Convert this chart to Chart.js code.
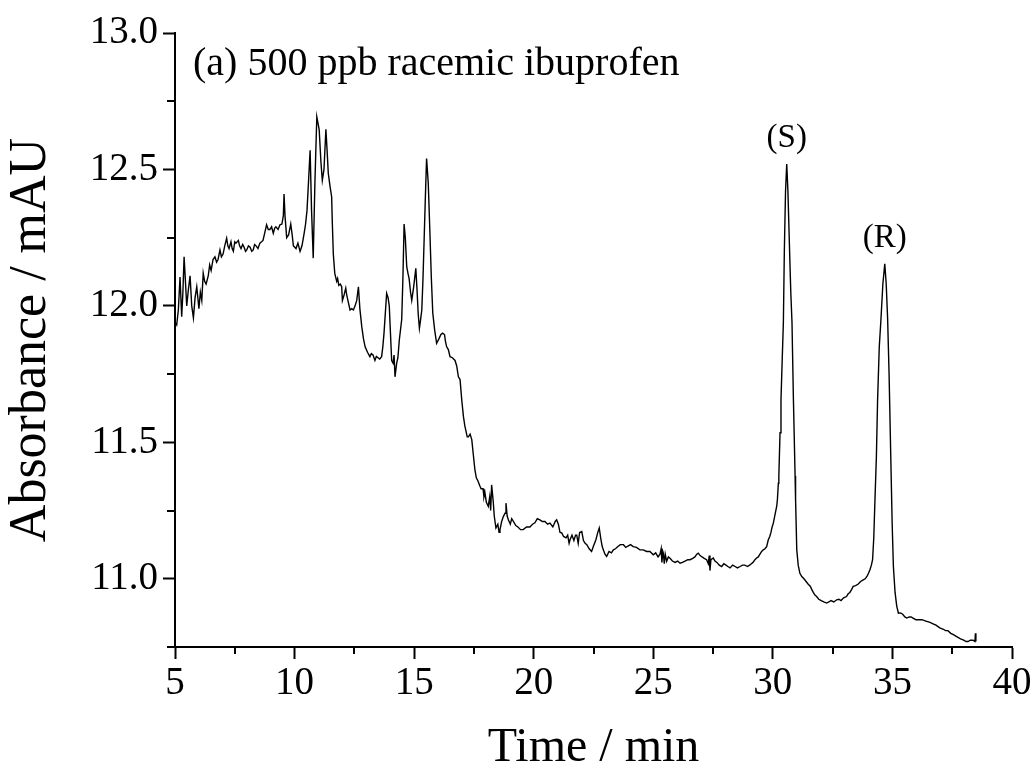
<!DOCTYPE html>
<html>
<head>
<meta charset="utf-8">
<script src="https://cdn.jsdelivr.net/npm/chart.js@4.4.0/dist/chart.umd.min.js"></script>
<style>
  html, body { margin: 0; padding: 0; background: #fff; }
</style>
</head>
<body>
<canvas id="chromChart" width="1034" height="769"></canvas>
<script>
// retention time (min) and detector signal (mAU)
const times = [
  5.00, 5.07, 5.14, 5.21, 5.28, 5.33, 5.38, 5.43, 5.49, 5.56, 5.63, 5.70, 5.77, 5.84, 5.91, 6.00,
  6.06, 6.12, 6.18, 6.24, 6.30, 6.39, 6.45, 6.51, 6.59, 6.67, 6.74, 6.80, 6.88, 6.94, 7.01, 7.08,
  7.16, 7.21, 7.26, 7.34, 7.39, 7.44, 7.50, 7.55, 7.65, 7.70, 7.76, 7.83, 7.89, 7.95, 8.00, 8.07,
  8.14, 8.21, 8.27, 8.33, 8.39, 8.47, 8.55, 8.62, 8.68, 8.76, 8.83, 8.90, 8.97, 9.04, 9.11, 9.17,
  9.22, 9.31, 9.39, 9.47, 9.53, 9.56, 9.60, 9.67, 9.75, 9.84, 9.90, 9.95, 10.01, 10.06, 10.14, 10.23,
  10.31, 10.40, 10.46, 10.52, 10.58, 10.65, 10.71, 10.78, 10.85, 10.93, 10.98, 11.03, 11.10, 11.16, 11.23, 11.31,
  11.36, 11.41, 11.48, 11.55, 11.58, 11.62, 11.68, 11.76, 11.80, 11.85, 11.91, 11.97, 12.00, 12.07, 12.14, 12.18,
  12.23, 12.32, 12.39, 12.46, 12.53, 12.60, 12.67, 12.73, 12.81, 12.88, 12.95, 13.05, 13.15, 13.21, 13.28, 13.36,
  13.42, 13.49, 13.56, 13.64, 13.69, 13.74, 13.80, 13.85, 13.91, 13.96, 14.01, 14.06, 14.12, 14.16, 14.20, 14.27,
  14.32, 14.38, 14.48, 14.53, 14.58, 14.63, 14.69, 14.74, 14.79, 14.85, 14.90, 14.98, 15.07, 15.12, 15.17, 15.22,
  15.27, 15.32, 15.37, 15.42, 15.47, 15.52, 15.59, 15.66, 15.72, 15.78, 15.86, 15.94, 16.04, 16.12, 16.19, 16.27,
  16.31, 16.36, 16.43, 16.50, 16.60, 16.71, 16.78, 16.85, 16.92, 16.99, 17.06, 17.12, 17.17, 17.22, 17.27, 17.34,
  17.41, 17.48, 17.54, 17.60, 17.66, 17.75, 17.80, 17.88, 17.92, 17.96, 18.02, 18.10, 18.16, 18.20, 18.24, 18.31,
  18.35, 18.42, 18.50, 18.55, 18.59, 18.66, 18.73, 18.80, 18.84, 18.89, 18.94, 19.02, 19.08, 19.15, 19.25, 19.34,
  19.45, 19.56, 19.70, 19.84, 19.95, 20.05, 20.15, 20.26, 20.36, 20.47, 20.58, 20.68, 20.80, 20.90, 20.96, 21.03,
  21.10, 21.17, 21.25, 21.35, 21.42, 21.48, 21.52, 21.60, 21.68, 21.75, 21.80, 21.86, 21.92, 22.01, 22.08, 22.15,
  22.22, 22.32, 22.42, 22.50, 22.60, 22.68, 22.74, 22.80, 22.86, 22.91, 22.98, 23.05, 23.15, 23.25, 23.33, 23.42,
  23.52, 23.62, 23.75, 23.85, 23.94, 24.05, 24.16, 24.30, 24.44, 24.58, 24.72, 24.86, 25.00, 25.10, 25.20, 25.28,
  25.33, 25.36, 25.40, 25.42, 25.46, 25.50, 25.56, 25.63, 25.70, 25.80, 25.91, 26.02, 26.12, 26.22, 26.33, 26.44,
  26.54, 26.65, 26.74, 26.82, 26.88, 26.96, 27.04, 27.13, 27.23, 27.30, 27.34, 27.37, 27.41, 27.51, 27.58, 27.66,
  27.76, 27.86, 27.95, 28.04, 28.12, 28.21, 28.32, 28.42, 28.52, 28.63, 28.73, 28.83, 28.94, 29.04, 29.10, 29.17,
  29.25, 29.32, 29.39, 29.46, 29.53, 29.60, 29.67, 29.74, 29.81, 29.87, 29.92, 29.97, 30.02, 30.09, 30.16, 30.19,
  30.23, 30.25, 30.30, 30.34, 30.39, 30.44, 30.48, 30.53, 30.58, 30.63, 30.70, 30.75, 30.80, 30.86, 30.93, 30.95,
  31.00, 31.06, 31.13, 31.21, 31.30, 31.39, 31.48, 31.57, 31.63, 31.69, 31.76, 31.83, 31.92, 32.02, 32.13, 32.25,
  32.34, 32.43, 32.55, 32.67, 32.76, 32.85, 32.96, 33.08, 33.15, 33.22, 33.29, 33.36, 33.46, 33.56, 33.67, 33.78,
  33.86, 33.94, 34.00, 34.06, 34.12, 34.17, 34.22, 34.27, 34.33, 34.38, 34.45, 34.52, 34.60, 34.68, 34.74, 34.80,
  34.83, 34.86, 34.93, 34.99, 35.04, 35.11, 35.18, 35.25, 35.34, 35.43, 35.52, 35.60, 35.70, 35.78, 35.88, 35.98,
  36.10, 36.23, 36.40, 36.57, 36.70, 36.82, 36.98, 37.13, 37.22, 37.32, 37.44, 37.55, 37.65, 37.74, 37.85, 37.98,
  38.08, 38.16, 38.26, 38.37, 38.45, 38.47, 38.49
];
const absorbance = [
  11.94, 11.93, 11.985, 12.106, 11.96, 12.05, 12.18, 12.10, 12.00, 12.06, 12.11, 12.00, 11.956, 12.03, 12.07, 11.99,
  12.05, 12.02, 12.12, 12.09, 12.08, 12.11, 12.15, 12.13, 12.17, 12.18, 12.16, 12.17, 12.205, 12.18, 12.19, 12.22,
  12.248, 12.22, 12.21, 12.235, 12.21, 12.20, 12.235, 12.23, 12.24, 12.22, 12.21, 12.225, 12.215, 12.20, 12.205, 12.22,
  12.215, 12.20, 12.205, 12.225, 12.22, 12.21, 12.23, 12.235, 12.24, 12.27, 12.297, 12.28, 12.28, 12.29, 12.266, 12.285,
  12.29, 12.28, 12.297, 12.30, 12.33, 12.41, 12.33, 12.25, 12.26, 12.30, 12.26, 12.22, 12.215, 12.21, 12.23, 12.20,
  12.22, 12.266, 12.30, 12.35, 12.45, 12.57, 12.35, 12.175, 12.45, 12.693, 12.67, 12.645, 12.53, 12.46, 12.50, 12.647,
  12.57, 12.486, 12.44, 12.40, 12.30, 12.19, 12.12, 12.09, 12.10, 12.075, 12.08, 12.07, 12.02, 12.04, 12.065, 12.04,
  12.02, 11.985, 11.99, 11.985, 12.00, 12.02, 12.07, 11.99, 11.924, 11.88, 11.85, 11.83, 11.814, 11.825, 11.82, 11.80,
  11.815, 11.81, 11.805, 11.814, 11.85, 11.90, 11.98, 12.046, 12.03, 12.00, 11.90, 11.80, 11.79, 11.82, 11.74, 11.79,
  11.81, 11.875, 11.95, 12.10, 12.30, 12.25, 12.144, 12.12, 12.10, 12.05, 12.02, 12.07, 12.138, 12.06, 11.97, 11.918,
  11.95, 11.985, 12.10, 12.25, 12.40, 12.54, 12.45, 12.266, 12.10, 11.973, 11.91, 11.863, 11.88, 11.895, 11.90, 11.895,
  11.87, 11.85, 11.84, 11.814, 11.81, 11.80, 11.78, 11.74, 11.73, 11.656, 11.595, 11.56, 11.54, 11.52, 11.52, 11.53,
  11.51, 11.45, 11.40, 11.37, 11.36, 11.34, 11.33, 11.33, 11.30, 11.315, 11.28, 11.265, 11.30, 11.25, 11.344, 11.28,
  11.23, 11.186, 11.20, 11.17, 11.18, 11.21, 11.228, 11.24, 11.277, 11.23, 11.216, 11.20, 11.22, 11.21, 11.195, 11.19,
  11.18, 11.18, 11.19, 11.19, 11.20, 11.205, 11.22, 11.216, 11.21, 11.21, 11.20, 11.204, 11.19, 11.21, 11.216, 11.20,
  11.17, 11.168, 11.155, 11.15, 11.16, 11.13, 11.143, 11.16, 11.14, 11.16, 11.16, 11.13, 11.17, 11.173, 11.14, 11.13,
  11.125, 11.11, 11.10, 11.12, 11.143, 11.17, 11.186, 11.15, 11.12, 11.106, 11.09, 11.082, 11.10, 11.095, 11.106, 11.11,
  11.118, 11.125, 11.125, 11.115, 11.12, 11.125, 11.118, 11.115, 11.106, 11.106, 11.10, 11.10, 11.088, 11.095, 11.08, 11.09,
  11.11, 11.06, 11.10, 11.094, 11.055, 11.09, 11.064, 11.08, 11.075, 11.065, 11.06, 11.065, 11.057, 11.06, 11.065, 11.07,
  11.07, 11.075, 11.08, 11.09, 11.094, 11.085, 11.08, 11.075, 11.07, 11.055, 11.085, 11.03, 11.07, 11.076, 11.065, 11.06,
  11.05, 11.045, 11.055, 11.05, 11.045, 11.04, 11.05, 11.045, 11.04, 11.045, 11.05, 11.05, 11.045, 11.051, 11.055, 11.06,
  11.07, 11.076, 11.08, 11.09, 11.10, 11.106, 11.11, 11.118, 11.143, 11.155, 11.17, 11.19, 11.204, 11.235, 11.265, 11.29,
  11.35, 11.377, 11.535, 11.656, 11.80, 11.94, 12.20, 12.42, 12.52, 12.42, 12.20, 12.05, 11.94, 11.656, 11.377, 11.29,
  11.106, 11.05, 11.02, 11.008, 11.00, 10.99, 10.98, 10.972, 10.96, 10.95, 10.94, 10.935, 10.925, 10.92, 10.915, 10.911,
  10.915, 10.92, 10.915, 10.923, 10.925, 10.92, 10.93, 10.935, 10.945, 10.95, 10.96, 10.972, 10.975, 10.98, 10.99, 10.996,
  11.00, 11.01, 11.02, 11.033, 11.05, 11.07, 11.15, 11.29, 11.45, 11.656, 11.85, 11.95, 12.08, 12.154, 12.08, 11.95,
  11.85, 11.75, 11.45, 11.20, 11.045, 10.95, 10.90, 10.874, 10.875, 10.87, 10.86, 10.856, 10.86, 10.86, 10.855, 10.85,
  10.85, 10.85, 10.845, 10.84, 10.835, 10.83, 10.82, 10.815, 10.81, 10.81, 10.80, 10.795, 10.79, 10.785, 10.78, 10.775,
  10.77, 10.77, 10.775, 10.775, 10.77, 10.80, 10.77
];

// enantiomer peak labels
const peakNames = ['(S)', '(R)'];
const peakTimes = [30.58, 34.68];
const peakTops = [12.52, 12.154];

const sampleLabel = '(a) 500 ppb racemic ibuprofen';
const xMin = 5, xMax = 40, xStep = 2.5;
const yMin = 10.75, yMax = 13.0, yStep = 0.25;

const serif = "'Liberation Serif', 'Times New Roman', Times, serif";

function isMajorX(v) { return Math.abs(v / 5 - Math.round(v / 5)) < 1e-6; }
function isMajorY(v) { return Math.abs(v * 2 - Math.round(v * 2)) < 1e-6; }

// minor ticks (shorter) and the text labels inside the plot
const extrasPlugin = {
  id: 'extras',
  afterDraw(chart) {
    const ctx = chart.ctx;
    const xs = chart.scales.x;
    const ys = chart.scales.y;
    ctx.save();
    ctx.strokeStyle = '#000';
    ctx.lineWidth = 2;
    xs.ticks.forEach(t => {
      if (!isMajorX(t.value)) {
        const px = Math.round(xs.getPixelForValue(t.value));
        ctx.beginPath();
        ctx.moveTo(px, ys.bottom);
        ctx.lineTo(px, ys.bottom + 7);
        ctx.stroke();
      }
    });
    ys.ticks.forEach(t => {
      if (!isMajorY(t.value)) {
        const py = Math.round(ys.getPixelForValue(t.value));
        ctx.beginPath();
        ctx.moveTo(xs.left, py);
        ctx.lineTo(xs.left - 8, py);
        ctx.stroke();
      }
    });

    ctx.fillStyle = '#000';
    ctx.textAlign = 'left';
    ctx.textBaseline = 'alphabetic';
    ctx.font = '40px ' + serif;
    ctx.fillText(sampleLabel, xs.left + 18, ys.top + 42);

    ctx.textAlign = 'center';
    ctx.font = '33px ' + serif;
    peakNames.forEach((name, i) => {
      const px = xs.getPixelForValue(peakTimes[i]);
      const py = ys.getPixelForValue(peakTops[i]);
      ctx.fillText(name, px, py - 17);
    });
    ctx.restore();
  }
};

const points = times.map((t, i) => ({ x: t, y: absorbance[i] }));

const chromCtx = document.getElementById('chromChart').getContext('2d');
const chromChart = new Chart(chromCtx, {
  type: 'line',
  data: {
    datasets: [{
      label: 'Absorbance',
      data: points,
      borderColor: '#000',
      borderWidth: 1.4,
      pointRadius: 0,
      tension: 0,
      fill: false
    }]
  },
  options: {
    responsive: false,
    animation: false,
    devicePixelRatio: 1,
    layout: { padding: { top: 33, right: 22, left: 0, bottom: 0 } },
    plugins: {
      legend: { display: false },
      tooltip: { enabled: false }
    },
    scales: {
      x: {
        type: 'linear',
        min: xMin,
        max: xMax,
        afterFit: s => { s.height = 122; },
        border: { display: true, color: '#000', width: 2 },
        grid: {
          drawOnChartArea: false,
          drawTicks: true,
          tickLength: 12,
          tickWidth: 2,
          tickColor: c => (c.tick && isMajorX(c.tick.value)) ? '#000' : 'rgba(0,0,0,0)'
        },
        ticks: {
          stepSize: xStep,
          autoSkip: false,
          maxRotation: 0,
          padding: 1,
          color: '#000',
          font: { family: serif, size: 39 },
          callback: v => isMajorX(v) ? String(Math.round(v)) : ''
        },
        title: {
          display: true,
          text: 'Time / min',
          color: '#000',
          font: { family: serif, size: 48 },
          padding: { top: 0, bottom: -8 }
        }
      },
      y: {
        type: 'linear',
        min: yMin,
        max: yMax,
        afterFit: s => { s.width = 175; },
        border: { display: true, color: '#000', width: 2 },
        grid: {
          drawOnChartArea: false,
          drawTicks: true,
          tickLength: 12,
          tickWidth: 2,
          tickColor: c => (c.tick && isMajorY(c.tick.value)) ? '#000' : 'rgba(0,0,0,0)'
        },
        ticks: {
          stepSize: yStep,
          autoSkip: false,
          padding: 5,
          color: '#000',
          font: { family: serif, size: 39 },
          callback: v => isMajorY(v) ? v.toFixed(1) : ''
        },
        title: {
          display: true,
          text: 'Absorbance / mAU',
          color: '#000',
          font: { family: serif, size: 52 },
          padding: { top: 0, bottom: 0 }
        }
      }
    }
  },
  plugins: [extrasPlugin]
});
</script>
</body>
</html>
